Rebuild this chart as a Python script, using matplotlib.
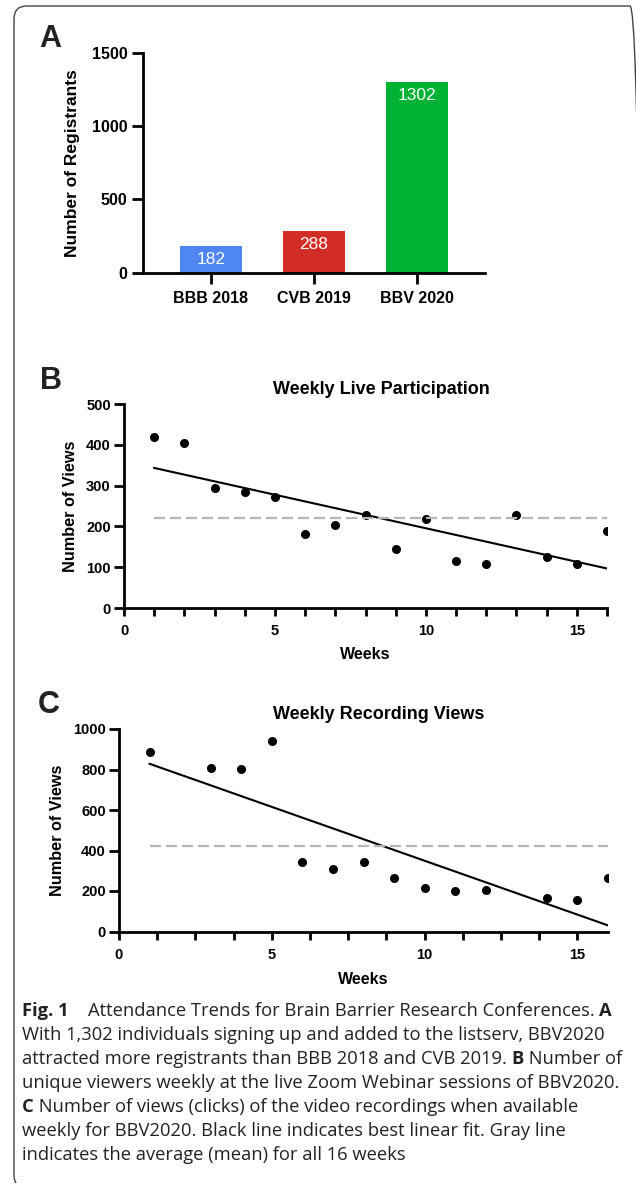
import numpy as np
import matplotlib
matplotlib.use('Agg')
import matplotlib.pyplot as plt
from matplotlib.patches import FancyBboxPatch
from matplotlib.ticker import MultipleLocator

plt.rcParams['font.family'] = ['Liberation Sans', 'DejaVu Sans']

# panel A
conferences = ['BBB 2018', 'CVB 2019', 'BBV 2020']
registrants = [182, 288, 1302]
bar_colors = ['#4F86F2', '#D12D24', '#00B233']

# panel B
live_weeks = [1, 2, 3, 4, 5, 6, 7, 8, 9, 10, 11, 12, 13, 14, 15, 16]
live_views = [418, 405, 294, 284, 271, 181, 204, 228, 145, 217, 116, 108, 229, 125, 107, 189]

# panel C (no recording data for weeks 2 and 13)
rec_weeks = [1, 3, 4, 5, 6, 7, 8, 9, 10, 11, 12, 14, 15, 16]
rec_views = [885, 807, 803, 942, 345, 308, 345, 262, 214, 199, 207, 163, 156, 266]

caption = [
    [('Fig. 1', True), ('    Attendance Trends for Brain Barrier Research Conferences. ', False), ('A', True)],
    [('With 1,302 individuals signing up and added to the listserv, BBV2020', False)],
    [('attracted more registrants than BBB 2018 and CVB 2019. ', False), ('B', True), (' Number of', False)],
    [('unique viewers weekly at the live Zoom Webinar sessions of BBV2020.', False)],
    [('C', True), (' Number of views (clicks) of the video recordings when available', False)],
    [('weekly for BBV2020. Black line indicates best linear fit. Gray line', False)],
    [('indicates the average (mean) for all 16 weeks', False)],
]

W, H = 636, 1183
fig = plt.figure(figsize=(W / 100, H / 100), dpi=100)
renderer = fig.canvas.get_renderer()
cap_font = ['Open Sans', 'DejaVu Sans']


def px_axes(left, top, right, bottom):
    return fig.add_axes([left / W, 1 - bottom / H, (right - left) / W, (bottom - top) / H])


def style(ax, tick_len, tick_size):
    for s in ['top', 'right']:
        ax.spines[s].set_visible(False)
    for s in ['left', 'bottom']:
        ax.spines[s].set_linewidth(2.0)
    ax.tick_params(which='both', direction='out', width=2.0, labelsize=tick_size)
    ax.tick_params(which='major', length=tick_len)
    for lab in ax.get_xticklabels() + ax.get_yticklabels():
        lab.set_fontweight('bold')


# border around the figure (right and bottom sides fall just outside the image)
border = FancyBboxPatch((0.14, -0.05), 6.29, 11.82, boxstyle='round,pad=0,rounding_size=0.13',
                        transform=fig.dpi_scale_trans, fill=False, edgecolor='#444444',
                        linewidth=1.0)
fig.patches.append(border)

# ---------- A ----------
axA = px_axes(143, 53, 485, 272.7)
xpos = np.arange(len(conferences))
axA.bar(xpos, registrants, width=0.6, color=bar_colors)
for x, v in zip(xpos, registrants):
    axA.annotate(str(v), (x, v), xytext=(0, -10), textcoords='offset points',
                 ha='center', va='center', color='white', fontsize=12.5)
axA.set_xlim(-0.66, 2.66)
axA.set_ylim(0, 1500)
axA.set_yticks([0, 500, 1000, 1500])
axA.set_xticks(xpos)
axA.set_xticklabels(conferences)
style(axA, 8, 11.5)
axA.tick_params(axis='x', pad=5)
axA.tick_params(axis='y', pad=3)
axA.set_ylabel('Number of Registrants', fontsize=12.5, fontweight='bold')
axA.yaxis.set_label_coords(-0.183, 0.5)

# ---------- B ----------
axB = px_axes(124, 404, 607, 608)
axB.plot(live_weeks, live_views, 'o', color='black', markersize=5.5)
kb = np.polyfit(live_weeks, live_views, 1)
fx = np.array([1, 16])
axB.plot(fx, np.polyval(kb, fx), color='black', linewidth=1.5)
axB.plot(fx, [np.mean(live_views)] * 2, color='#B5B5B5', linewidth=1.6, dashes=(5, 2.2))
axB.set_xlim(0, 16)
axB.set_ylim(0, 500)
axB.set_xticks([0, 5, 10, 15])
axB.xaxis.set_minor_locator(MultipleLocator(1))
axB.set_yticks([0, 100, 200, 300, 400, 500])
style(axB, 7.5, 10.5)
axB.tick_params(axis='x', which='both', length=5.5, pad=6)
axB.tick_params(axis='y', pad=2)
axB.set_title('Weekly Live Participation', fontsize=13, fontweight='bold', x=0.532, pad=7)
axB.set_xlabel('Weeks', fontsize=11.5, fontweight='bold')
axB.xaxis.set_label_coords(0.5, -0.19)
axB.set_ylabel('Number of Views', fontsize=11.7, fontweight='bold')
axB.yaxis.set_label_coords(-0.095, 0.5)

# ---------- C ----------
axC = px_axes(119, 729, 608, 931.5)
axC.plot(rec_weeks, rec_views, 'o', color='black', markersize=5.5)
kc = np.polyfit(rec_weeks, rec_views, 1)
axC.plot(fx, np.polyval(kc, fx), color='black', linewidth=1.5)
axC.plot(fx, [np.mean(rec_views)] * 2, color='#B5B5B5', linewidth=1.6, dashes=(5, 2.2))
axC.set_xlim(0, 16)
axC.set_ylim(0, 1000)
axC.set_xticks([0, 5, 10, 15])
axC.xaxis.set_minor_locator(MultipleLocator(1.25))
axC.set_yticks([0, 200, 400, 600, 800, 1000])
style(axC, 7.5, 10.5)
axC.tick_params(axis='x', which='both', length=6, pad=6)
axC.tick_params(axis='y', pad=2)
axC.set_title('Weekly Recording Views', fontsize=13, fontweight='bold', x=0.532, pad=7)
axC.set_xlabel('Weeks', fontsize=11.5, fontweight='bold')
axC.xaxis.set_label_coords(0.5, -0.2)
axC.set_ylabel('Number of Views', fontsize=11.7, fontweight='bold')
axC.yaxis.set_label_coords(-0.11, 0.5)

# panel letters
for letter, (lx, ly) in zip('ABC', [(50, 39), (51, 381), (49, 705)]):
    fig.text(lx / W, 1 - ly / H, letter, fontsize=22, fontweight='bold', color='#222222',
             ha='center', va='center')

# caption: pick the size so the second line is about 585 px wide, as in the reference
probe = fig.text(0, 0, caption[1][0][0], fontsize=10, family=cap_font)
cap_size = 10 * 585 / probe.get_window_extent(renderer).width
probe.remove()

for i, parts in enumerate(caption):
    y = 1 - (1011 + 24 * i) / H
    x = 22 / W
    for txt, bold in parts:
        t = fig.text(x, y, txt, fontsize=cap_size, family=cap_font,
                     fontweight='bold' if bold else 'normal', color='#222222',
                     ha='left', va='center')
        x = t.get_window_extent(renderer).x1 / fig.bbox.width

fig.savefig('out.png', dpi=100)
